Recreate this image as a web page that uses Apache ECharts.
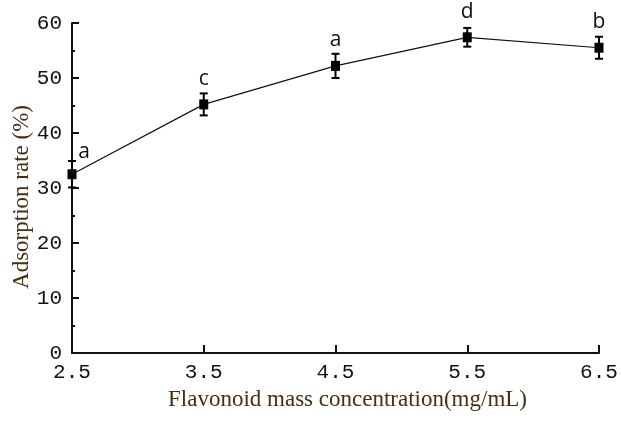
<!DOCTYPE html>
<html>
<head>
<meta charset="utf-8">
<script src="https://cdn.jsdelivr.net/npm/echarts@6/dist/echarts.min.js"></script>
<style>
  html, body { margin: 0; padding: 0; background: #fff; }
  #chart { width: 621px; height: 421px; }
</style>
</head>
<body>
<div id="chart"></div>
<script>
// Flavonoid concentration (mg/mL) vs adsorption rate (%)
const concentrations = ['2.5', '3.5', '4.5', '5.5', '6.5'];
const adsorption = [32.5, 45.2, 52.2, 57.4, 55.5];
const stdDev = [2.4, 2.0, 2.2, 1.7, 2.0];
const groupLetters = ['a', 'c', 'a', 'd', 'b'];
const yTicks = [0, 10, 20, 30, 40, 50, 60];

const xTitle = 'Flavonoid mass concentration(mg/mL)';
const yTitle = 'Adsorption rate (%)';

const axisColor = '#111';
const titleColor = '#4a2e12';
const monoFont = '"Liberation Mono", "DejaVu Sans Mono", monospace';
const serifFont = '"Liberation Serif", "DejaVu Serif", serif';

const chart = echarts.init(document.getElementById('chart'), null, { renderer: 'canvas' });

const lineData = adsorption.map((v, i) => {
  const item = { value: v };
  if (i === 0) item.label = { offset: [12, 3] };
  return item;
});

const errorData = adsorption.map((v, i) => [i, v - stdDev[i], v + stdDev[i]]);

chart.setOption({
  animation: false,
  backgroundColor: '#fff',
  grid: { left: 72, right: 22, top: 23, bottom: 68 },
  xAxis: {
    type: 'category',
    data: concentrations,
    boundaryGap: false,
    axisLine: { lineStyle: { color: axisColor, width: 2 } },
    axisTick: { show: true, inside: true, length: 8, alignWithLabel: true, lineStyle: { color: axisColor, width: 2 } },
    axisLabel: { color: '#111', fontFamily: monoFont, fontSize: 21, margin: 9 },
    splitLine: { show: false }
  },
  yAxis: {
    type: 'value',
    min: yTicks[0],
    max: yTicks[yTicks.length - 1],
    interval: 10,
    axisLine: { show: true, lineStyle: { color: axisColor, width: 2 } },
    axisTick: { show: true, inside: true, length: 7, lineStyle: { color: axisColor, width: 2 } },
    minorTick: { show: true, splitNumber: 2, length: 3, lineStyle: { color: axisColor, width: 2 } },
    axisLabel: { color: '#111', fontFamily: monoFont, fontSize: 21, margin: 10 },
    splitLine: { show: false }
  },
  graphic: [
    {
      type: 'text',
      left: 168,
      top: 388,
      style: { text: xTitle, fill: titleColor, font: '23px ' + serifFont }
    },
    {
      type: 'text',
      x: 10,
      y: 197,
      rotation: Math.PI / 2,
      style: { text: yTitle, fill: titleColor, font: '23px ' + serifFont, align: 'center', verticalAlign: 'top' }
    }
  ],
  series: [
    {
      type: 'line',
      data: lineData,
      symbol: 'rect',
      symbolSize: [9, 10],
      itemStyle: { color: '#000' },
      lineStyle: { color: '#111', width: 1.2 },
      label: {
        show: true,
        position: 'top',
        distance: 10,
        color: '#111',
        fontFamily: '"Open Sans", "Liberation Sans", sans-serif',
        fontSize: 21,
        formatter: (p) => groupLetters[p.dataIndex]
      },
      z: 3
    },
    {
      type: 'custom',
      data: errorData,
      renderItem: (params, api) => {
        const idx = api.value(0);
        const lo = api.coord([idx, api.value(1)]);
        const hi = api.coord([idx, api.value(2)]);
        const half = 4;
        const style = { stroke: '#000', lineWidth: 2 };
        return {
          type: 'group',
          children: [
            { type: 'line', shape: { x1: lo[0], y1: lo[1], x2: hi[0], y2: hi[1] }, style },
            { type: 'line', shape: { x1: hi[0] - half, y1: hi[1], x2: hi[0] + half, y2: hi[1] }, style },
            { type: 'line', shape: { x1: lo[0] - half, y1: lo[1], x2: lo[0] + half, y2: lo[1] }, style }
          ]
        };
      },
      z: 4
    }
  ]
});
</script>
</body>
</html>
